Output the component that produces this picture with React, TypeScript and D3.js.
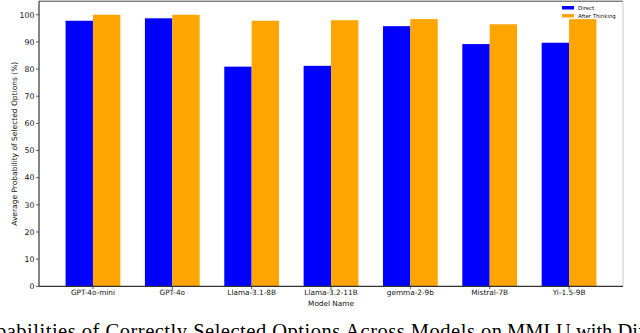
import React from "react";
import * as d3 from "d3";

const models = ["GPT-4o-mini", "GPT-4o", "Llama-3.1-8B", "Llama-3.2-11B", "gemma-2-9b", "Mistral-7B", "Yi-1.5-9B"];
const directValues = [97.8, 98.7, 80.9, 81.2, 95.8, 89.2, 89.7];
const thinkingValues = [100.0, 100.0, 97.8, 98.0, 98.4, 96.5, 98.4];
const seriesNames = ["Direct", "After Thinking"];
const seriesColors = ["#0000ff", "#ffa500"];
const yTicks = [0, 10, 20, 30, 40, 50, 60, 70, 80, 90, 100];
const captionLeft = "Probabilities of Correctly Selected Options Across Models on";
const captionRight = "MMLU with Different Thinking Strategies";

const W = 640;
const H = 333;
const left = 39;
const right = 623;
const top = 1.2;
const bottom = 286.3;

export default function App() {
  const x = d3.scaleLinear().domain([-0.68, 6.68]).range([left, right]);
  const y = d3.scaleLinear().domain([0, 105]).range([bottom, top]);
  const bw = 0.345;
  const series = [directValues, thinkingValues];
  const font = "'DejaVu Sans', sans-serif";
  const serif = "'Liberation Serif', 'Times New Roman', serif";

  return (
    <svg width={W} height={H} style={{ position: "absolute", left: 0, top: 0, background: "#fff" }}>
      <rect x={0} y={0} width={W} height={H} fill="#fff" />
      {series.map((vals, si) =>
        vals.map((v, i) => {
          const x0 = si === 0 ? x(i - bw) : x(i);
          const x1 = si === 0 ? x(i) : x(i + bw);
          return (
            <rect key={`${si}-${i}`} x={x0} y={y(v)} width={x1 - x0} height={y(0) - y(v)} fill={seriesColors[si]} />
          );
        })
      )}
      {/* spines */}
      <line x1={left} x2={right} y1={top} y2={top} stroke="#444" strokeWidth={1} />
      <line x1={right} x2={right} y1={top} y2={bottom} stroke="#ccc" strokeWidth={1} />
      <line x1={left} x2={left} y1={top} y2={bottom} stroke="#333" strokeWidth={1.2} />
      <line x1={left} x2={right} y1={bottom} y2={bottom} stroke="#333" strokeWidth={1.2} />
      {/* y ticks */}
      {yTicks.map((t) => (
        <g key={t}>
          <line x1={left - 3} x2={left} y1={y(t)} y2={y(t)} stroke="#333" strokeWidth={0.8} />
          <text x={left - 4.5} y={y(t)} dy="0.35em" textAnchor="end" fontSize={7.8} fontFamily={font} fill="#111">
            {t}
          </text>
        </g>
      ))}
      {/* x ticks */}
      {models.map((m, i) => (
        <g key={m}>
          <line x1={x(i)} x2={x(i)} y1={bottom} y2={bottom + 3} stroke="#333" strokeWidth={0.8} />
          <text x={x(i)} y={292.7} dy="0.35em" textAnchor="middle" fontSize={7.3} fontFamily={font} fill="#111">
            {m}
          </text>
        </g>
      ))}
      <text x={(left + right) / 2} y={303.2} dy="0.35em" textAnchor="middle" fontSize={7.3} fontFamily={font} fill="#111">
        Model Name
      </text>
      <text
        transform={`translate(14.5, ${(top + bottom) / 2}) rotate(-90)`}
        textAnchor="middle"
        dy="0.35em"
        fontSize={7.5}
        fontFamily={font}
        fill="#111"
      >
        Average Probability of Selected Options (%)
      </text>
      {/* legend */}
      {seriesNames.map((s, i) => (
        <g key={s}>
          <rect x={562} y={6 + i * 8} width={12} height={3.5} fill={seriesColors[i]} />
          <text x={578} y={7.8 + i * 8} dy="0.35em" fontSize={5.4} fontFamily={font} fill="#111">
            {s}
          </text>
        </g>
      ))}
      {/* caption */}
      <text x={-34} y={338} textLength={536} lengthAdjust="spacing" fontSize={20.5} fontFamily={serif} fill="#000">
        {captionLeft}
      </text>
      <text x={507} y={338} textAnchor="start" fontSize={20.5} fontFamily={serif} fill="#000">
        {captionRight}
      </text>
    </svg>
  );
}
